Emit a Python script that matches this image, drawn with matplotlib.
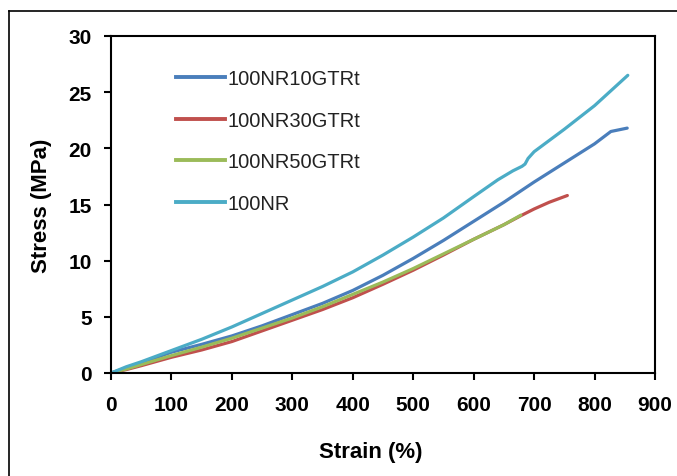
import matplotlib
matplotlib.use("Agg")
import matplotlib.pyplot as plt
from matplotlib.lines import Line2D

# ---- data ----
strain_nr = [0, 25, 50, 100, 150, 200, 250, 300, 350, 400, 450, 500, 550, 600, 640, 665, 680, 685, 690, 700, 750, 800, 855]
stress_nr = [0, 0.55, 1.0, 2.0, 3.0, 4.1, 5.3, 6.5, 7.7, 9.0, 10.5, 12.1, 13.8, 15.7, 17.2, 18.0, 18.4, 18.6, 19.1, 19.7, 21.7, 23.8, 26.5]

strain_10 = [0, 25, 50, 100, 150, 200, 250, 300, 350, 400, 450, 500, 550, 600, 650, 700, 750, 800, 827, 854]
stress_10 = [0, 0.45, 0.9, 1.85, 2.55, 3.3, 4.2, 5.2, 6.2, 7.35, 8.7, 10.2, 11.8, 13.5, 15.2, 17.0, 18.7, 20.4, 21.5, 21.8]

strain_30 = [0, 25, 50, 100, 150, 200, 250, 300, 350, 400, 450, 500, 550, 600, 650, 678, 700, 725, 755]
stress_30 = [0, 0.3, 0.65, 1.4, 2.05, 2.8, 3.75, 4.7, 5.65, 6.7, 7.9, 9.15, 10.5, 11.9, 13.2, 14.0, 14.6, 15.2, 15.8]

strain_50 = [0, 25, 50, 100, 150, 200, 250, 300, 350, 400, 450, 500, 550, 600, 650, 678]
stress_50 = [0, 0.35, 0.75, 1.55, 2.3, 3.1, 4.0, 4.9, 5.9, 7.0, 8.1, 9.3, 10.6, 11.9, 13.2, 14.05]

labels = ["100NR10GTRt", "100NR30GTRt", "100NR50GTRt", "100NR"]
colors = ["#4A7EBB", "#C0504D", "#9BBB59", "#4BACC6"]
xticks = [0, 100, 200, 300, 400, 500, 600, 700, 800, 900]
yticks = [0, 5, 10, 15, 20, 25, 30]

W, H = 677, 477
fig = plt.figure(figsize=(W / 100, H / 100), dpi=100)
ax = fig.add_axes([111 / W, 1 - 374 / H, (655 - 111) / W, (374 - 37) / H])

series = [(strain_10, stress_10), (strain_30, stress_30), (strain_50, stress_50), (strain_nr, stress_nr)]
for (xs, ys), c, lab in zip(series, colors, labels):
    ax.plot(xs, ys, color=c, lw=2.3, label=lab, solid_capstyle="round", solid_joinstyle="round")

ax.set_xlim(0, 900)
ax.set_ylim(0, 30)
ax.set_xticks(xticks)
ax.set_yticks(yticks)
for s in ax.spines.values():
    s.set_linewidth(1.5)
    s.set_color("black")
ax.tick_params(axis="both", direction="out", length=5, width=1.5)
ax.tick_params(axis="x", pad=11)
ax.tick_params(axis="y", pad=9)
for t in ax.get_xticklabels() + ax.get_yticklabels():
    t.set_fontfamily("Liberation Sans")
    t.set_fontweight("bold")
    t.set_fontsize(15)

ax.set_ylabel("Stress (MPa)", fontfamily="Liberation Sans", fontweight="bold", fontsize=16, labelpad=12)
fig.text(371 / W, 1 - 453 / H, "Strain (%)", ha="center", va="center",
         fontfamily="Liberation Sans", fontweight="bold", fontsize=16)

# legend (no frame)
handles = [Line2D([0], [0], color=c, lw=2.8) for c in colors]
leg = ax.legend(handles, labels, loc="upper left", bbox_to_anchor=(0.105, 0.925), frameon=False,
                prop={"family": "Liberation Sans", "size": 14.5}, handlelength=2.4,
                handletextpad=0.15, labelspacing=1.12, borderaxespad=0)
for t in leg.get_texts():
    t.set_color("#222222")

# outer chart border
fig.add_artist(Line2D([9 / W, 1.0], [1 - 12 / H, 1 - 12 / H], transform=fig.transFigure, color="black", lw=1.2))
fig.add_artist(Line2D([9 / W, 9 / W], [1 - 12 / H, 0], transform=fig.transFigure, color="black", lw=1.2))

fig.savefig("out.png", dpi=100)
